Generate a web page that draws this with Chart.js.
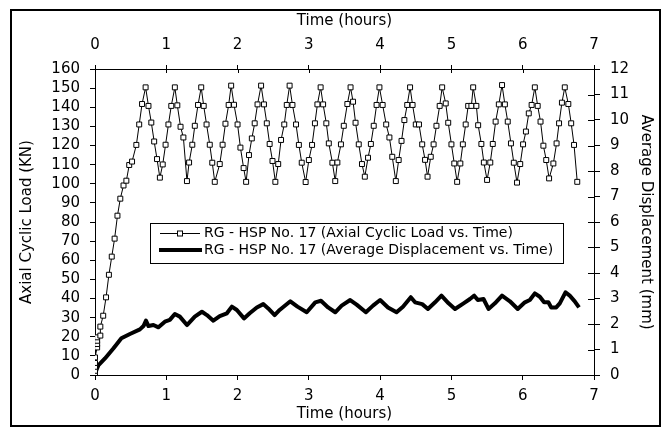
<!DOCTYPE html>
<html>
<head>
<meta charset="utf-8">
<script src="https://cdn.jsdelivr.net/npm/chart.js"></script>
<style>
html,body{margin:0;padding:0;background:#fff;}
</style>
</head>
<body>
<canvas id="chart" width="670" height="428"></canvas>
<script>
// axial cyclic load (KN) vs time (hours)
var loadHours=[0,0,0,0,0,0.03,0.03,0.03,0.03,0.075,0.075,0.115,0.155,0.195,0.235,0.275,0.315,0.355,0.40,0.44,
 0.48,0.52,0.58,0.62,0.66,0.71,0.75,0.79,0.83,0.87,0.91,0.95,0.99,1.03,1.07,1.12,1.155,1.20,1.24,1.29,
 1.32,1.365,1.40,1.445,1.49,1.525,1.565,1.61,1.645,1.68,1.75,1.79,1.83,1.875,1.91,1.95,2.00,2.04,2.085,2.12,
 2.16,2.20,2.24,2.28,2.33,2.37,2.41,2.45,2.49,2.53,2.57,2.61,2.655,2.69,2.73,2.77,2.82,2.86,2.90,2.955,
 3.00,3.045,3.085,3.12,3.165,3.20,3.245,3.28,3.33,3.37,3.40,3.45,3.49,3.54,3.585,3.62,3.655,3.70,3.745,3.785,
 3.83,3.87,3.91,3.95,3.99,4.035,4.085,4.13,4.17,4.22,4.26,4.30,4.34,4.38,4.42,4.455,4.50,4.545,4.59,4.63,
 4.665,4.71,4.75,4.79,4.835,4.87,4.92,4.955,5.00,5.04,5.08,5.125,5.16,5.20,5.235,5.28,5.305,5.35,5.375,5.42,
 5.455,5.50,5.545,5.58,5.62,5.665,5.71,5.75,5.79,5.835,5.875,5.92,5.965,6.005,6.045,6.085,6.125,6.17,6.21,6.25,
 6.29,6.33,6.37,6.43,6.475,6.51,6.55,6.59,6.64,6.68,6.72,6.765];
var loadKN=[0,2.2,4.3,6.3,9.2,14.4,16.2,17.9,19.7,20.6,25.3,31,40.6,52.4,61.9,71.3,83.3,92.2,99.1,101.6,
 109.8,111.6,120.3,131,141.7,150.4,140.7,132,122.1,112.9,103.2,110.1,120.4,131,140.7,150.4,141,129.8,124.2,101.4,
 111.1,120.4,130.3,141.2,150.4,140.7,131,120.4,111,101,110.3,120.4,131.4,141.2,151.3,141.3,131,118.9,108.2,101,
 115,123.7,131.6,141.5,151.3,141.5,131.6,120.8,111.9,101,110.3,122.9,131,141.2,151.3,141.2,131,120.3,111,100.9,
 112.4,120.3,131.6,141.5,150.4,141.5,131.6,121.1,111,101.4,111.1,120.6,130.3,141.7,150.4,142.9,131.9,120.6,110.3,103.7,
 113.6,120.8,130.3,141.2,150.4,141.2,131,124.2,114.1,101.4,112.4,122.4,133.3,141.2,150.4,141.2,131,131,120.6,112.5,
 103.7,114.1,120.6,130.3,140.7,150.4,142,131.9,120.6,110.6,101,110.6,120.6,131,140.7,140.7,150.4,140.7,130.6,120.8,
 111.1,102,111.1,120.8,132.5,141.5,151.6,141.5,132.5,121.1,111,100.6,110.3,120.6,127.3,136.8,141.2,150.4,140.7,132.5,
 119.9,112.4,102.8,110.6,121.1,131.6,142.4,150.4,141.7,131.6,120.3,101];

// average displacement (mm) vs time (hours)
var dispHours=[0,0.02,0.05,0.14,0.26,0.37,0.49,0.63,0.68,0.715,0.75,0.82,0.89,0.98,1.05,1.12,1.19,1.29,1.40,1.50,
 1.57,1.66,1.75,1.85,1.92,1.99,2.09,2.17,2.27,2.36,2.43,2.52,2.59,2.74,2.84,2.97,3.09,3.17,3.27,3.37,
 3.46,3.58,3.67,3.80,3.90,4.00,4.11,4.23,4.32,4.43,4.49,4.59,4.67,4.77,4.86,4.96,5.05,5.17,5.26,5.32,
 5.37,5.45,5.52,5.61,5.71,5.82,5.93,6.03,6.10,6.17,6.24,6.30,6.36,6.40,6.47,6.52,6.60,6.66,6.73,6.79];
var dispMM=[0,0.2,0.39,0.65,1.05,1.44,1.61,1.79,1.92,2.13,1.92,1.96,1.87,2.09,2.16,2.39,2.29,1.96,2.29,2.48,
 2.35,2.13,2.31,2.42,2.68,2.55,2.22,2.42,2.65,2.78,2.61,2.35,2.55,2.89,2.68,2.46,2.85,2.91,2.65,2.46,
 2.72,2.94,2.76,2.46,2.72,2.94,2.65,2.46,2.68,3.05,2.85,2.78,2.59,2.85,3.11,2.81,2.59,2.81,2.98,3.11,
 2.94,2.98,2.59,2.81,3.11,2.89,2.59,2.85,2.94,3.20,3.07,2.85,2.85,2.65,2.65,2.81,3.24,3.11,2.89,2.65];

var loadLabel='RG - HSP No. 17 (Axial Cyclic Load vs. Time)';
var dispLabel='RG - HSP No. 17 (Average Displacement vs. Time)';
var timeTitle='Time (hours)';
var loadTitle='Axial Cyclic Load (KN)';
var dispTitle='Average Displacement (mm)';

Chart.defaults.font.family="'DejaVu Sans', sans-serif";
Chart.defaults.color='#000';

var tickFont={size:15};

function pairUp(xs,ys){
  var out=[];
  for(var i=0;i<xs.length;i++){ out.push({x:xs[i],y:ys[i]}); }
  return out;
}

// white page + outer frame
var framePlugin={
  id:'frame',
  beforeDraw:function(chart){
    var c=chart.ctx;
    c.save();
    c.fillStyle='#fff';
    c.fillRect(0,0,chart.width,chart.height);
    c.restore();
  },
  afterDraw:function(chart){
    var c=chart.ctx;
    c.save();
    c.strokeStyle='#000';
    c.lineWidth=2;
    c.strokeRect(11,10,649,416);
    c.restore();
  }
};

// top and right axes have ticks that cross the axis line
var crossTicks={
  id:'crossTicks',
  afterDraw:function(chart){
    var c=chart.ctx, a=chart.chartArea;
    var top=chart.scales.x2, right=chart.scales.y1;
    c.save();
    c.strokeStyle='#000';
    c.lineWidth=1;
    top.ticks.forEach(function(t){
      var px=Math.round(top.getPixelForValue(t.value))+0.5;
      c.beginPath(); c.moveTo(px,a.top); c.lineTo(px,a.top+4); c.stroke();
    });
    right.ticks.forEach(function(t){
      var py=Math.round(right.getPixelForValue(t.value))+0.5;
      c.beginPath(); c.moveTo(a.right-6,py); c.lineTo(a.right,py); c.stroke();
    });
    c.restore();
  }
};

// boxed legend inside the plot
var boxLegend={
  id:'boxLegend',
  afterDatasetsDraw:function(chart){
    var c=chart.ctx;
    var x0=150, y0=223, w=413, h=40;
    c.save();
    c.fillStyle='#fff';
    c.fillRect(x0,y0,w,h);
    c.strokeStyle='#000';
    c.lineWidth=1;
    c.strokeRect(x0+0.5,y0+0.5,w,h);

    c.font="14px 'DejaVu Sans', sans-serif";
    c.fillStyle='#000';
    c.textBaseline='middle';
    c.textAlign='left';

    // row 1: thin line with square marker
    c.beginPath(); c.moveTo(160,233.5); c.lineTo(200,233.5); c.stroke();
    c.fillStyle='#fff';
    c.fillRect(177.5,231,5,5);
    c.strokeRect(177.5,231,5,5);
    c.fillStyle='#000';
    c.fillText(chart.data.datasets[0].label,204,233);

    // row 2: thick line
    c.lineWidth=4;
    c.beginPath(); c.moveTo(159,250); c.lineTo(202,250); c.stroke();
    c.fillText(chart.data.datasets[1].label,204,250);
    c.restore();
  }
};

var ctx=document.getElementById('chart').getContext('2d');
var myChart=new Chart(ctx,{
  type:'scatter',
  data:{
    datasets:[
      {
        label:loadLabel,
        data:pairUp(loadHours,loadKN),
        xAxisID:'x',
        yAxisID:'y',
        showLine:true,
        borderColor:'#000',
        borderWidth:1,
        tension:0,
        pointStyle:'rect',
        pointRadius:3.5,
        pointBorderWidth:1,
        pointBorderColor:'#000',
        pointBackgroundColor:'#fff'
      },
      {
        label:dispLabel,
        data:pairUp(dispHours,dispMM),
        xAxisID:'x',
        yAxisID:'y1',
        showLine:true,
        borderColor:'#000',
        borderWidth:4,
        borderJoinStyle:'round',
        tension:0,
        pointRadius:0
      }
    ]
  },
  options:{
    responsive:false,
    animation:false,
    layout:{padding:0},
    plugins:{legend:{display:false},tooltip:{enabled:false}},
    scales:{
      x:{
        type:'linear',position:'bottom',min:0,max:7,
        ticks:{stepSize:1,font:tickFont,color:'#000',padding:7,maxRotation:0,autoSkip:false},
        grid:{drawOnChartArea:false,tickLength:5,color:'#000',lineWidth:1},
        border:{color:'#000',width:1},
        title:{display:true,text:timeTitle,font:{size:15},color:'#000',padding:{top:0,bottom:5}},
        afterFit:function(s){ s.height=53; }
      },
      x2:{
        type:'linear',position:'top',min:0,max:7,
        ticks:{stepSize:1,font:tickFont,color:'#000',padding:11,maxRotation:0,autoSkip:false},
        grid:{drawOnChartArea:false,tickLength:4,color:'#000',lineWidth:1},
        border:{color:'#000',width:1},
        title:{display:true,text:timeTitle,font:{size:15},color:'#000',padding:{top:12,bottom:0}},
        afterFit:function(s){ s.height=69; }
      },
      y:{
        type:'linear',position:'left',min:0,max:160,
        ticks:{stepSize:10,font:tickFont,color:'#000',padding:10,autoSkip:false},
        grid:{drawOnChartArea:false,tickLength:5,color:'#000',lineWidth:1},
        border:{color:'#000',width:1},
        title:{display:true,text:loadTitle,font:{size:15},color:'#000',padding:{top:18,bottom:0}},
        afterFit:function(s){ s.width=95; }
      },
      y1:{
        type:'linear',position:'right',min:0,max:12,
        ticks:{stepSize:1,font:tickFont,color:'#000',padding:10,autoSkip:false},
        grid:{drawOnChartArea:false,tickLength:6,color:'#000',lineWidth:1},
        border:{color:'#000',width:1},
        title:{display:true,text:dispTitle,font:{size:15},color:'#000',padding:{top:15,bottom:0}},
        afterFit:function(s){ s.width=76; }
      }
    }
  },
  plugins:[framePlugin,crossTicks,boxLegend]
});
</script>
</body>
</html>
